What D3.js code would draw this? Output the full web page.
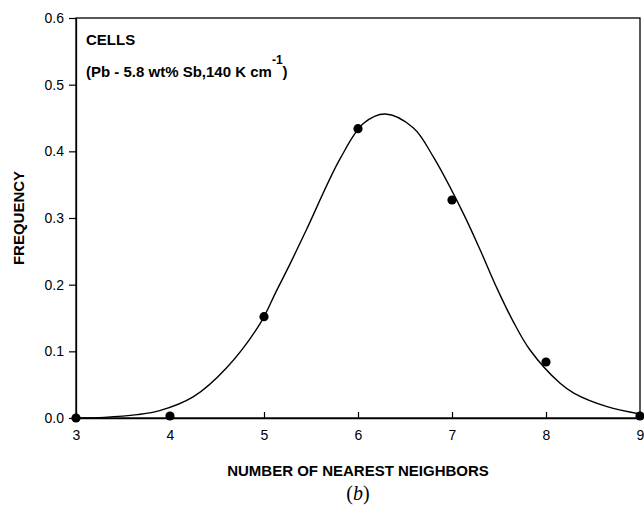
<!DOCTYPE html>
<meta charset="utf-8">
<style>
body { margin: 0; background: #fff; }
svg text { font-family: "Liberation Sans", Arial, sans-serif; fill: #000; }
.tick text { font-size: 14px; }
.bold { font-weight: bold; font-size: 15px; }
</style>
<svg width="644" height="514"></svg>
<script src="https://cdn.jsdelivr.net/npm/d3@7"></script>
<script>

// measured points (number of nearest neighbors vs frequency)
var neighbors = [3, 4, 5, 6, 7, 8, 9];
var frequency = [0.000, 0.003, 0.152, 0.434, 0.327, 0.084, 0.003];

// fitted curve
var fitX = [3.0, 3.3, 3.65, 3.89, 4.25, 4.6, 4.96, 5.13, 5.28, 5.45, 5.81, 6.06, 6.29, 6.59, 6.8, 7.12, 7.3, 7.48, 7.65, 7.83, 8.15, 8.3, 8.65, 9.0];
var fitY = [0.000, 0.001, 0.005, 0.011, 0.032, 0.075, 0.142, 0.190, 0.232, 0.282, 0.389, 0.442, 0.456, 0.435, 0.392, 0.307, 0.252, 0.194, 0.145, 0.102, 0.052, 0.037, 0.017, 0.006];

var xTicks = [3, 4, 5, 6, 7, 8, 9];
var yTicks = [0.0, 0.1, 0.2, 0.3, 0.4, 0.5, 0.6];

var svg = d3.select("svg");
var mLeft = 76, mRight = 640, mTop = 18, mBottom = 418;

var x = d3.scaleLinear().domain([3, 9]).range([mLeft, mRight]);
var y = d3.scaleLinear().domain([0, 0.6]).range([mBottom, mTop]);

// frame
svg.append("rect")
    .attr("x", mLeft).attr("y", mTop)
    .attr("width", mRight - mLeft).attr("height", mBottom - mTop)
    .attr("fill", "none").attr("stroke", "#000").attr("stroke-width", 1.3);

// bottom axis, ticks pointing inward
var xAxis = svg.append("g")
    .attr("transform", "translate(0," + mBottom + ")")
    .call(d3.axisBottom(x).tickValues(xTicks).tickFormat(d3.format("d"))
      .tickSizeInner(-6).tickSizeOuter(0).tickPadding(12));
xAxis.select(".domain").attr("stroke-width", 1.3);
xAxis.selectAll(".tick line").attr("stroke-width", 1.2);

// left axis, ticks outward
var yAxis = svg.append("g")
    .attr("transform", "translate(" + mLeft + ",0)")
    .call(d3.axisLeft(y).tickValues(yTicks).tickFormat(d3.format(".1f"))
      .tickSizeInner(7).tickSizeOuter(0).tickPadding(5));
yAxis.select(".domain").attr("stroke-width", 1.3);
yAxis.selectAll(".tick line").attr("stroke-width", 1.2);

// fitted curve
var line = d3.line()
    .x(function(d, i) { return x(fitX[i]); })
    .y(function(d) { return y(d); })
    .curve(d3.curveCatmullRom.alpha(0.5));

svg.append("path")
    .datum(fitY)
    .attr("d", line)
    .attr("fill", "none")
    .attr("stroke", "#000")
    .attr("stroke-width", 1.4);

// data points
svg.append("g").selectAll("circle")
    .data(frequency)
    .enter().append("circle")
      .attr("cx", function(d, i) { return x(neighbors[i]); })
      .attr("cy", function(d) { return y(d); })
      .attr("r", 4.6)
      .attr("fill", "#000");

// annotation
svg.append("text").attr("class", "bold")
    .attr("x", 86).attr("y", 45).text("CELLS");
var note = svg.append("text").attr("class", "bold")
    .attr("x", 86).attr("y", 77);
note.append("tspan").text("(Pb - 5.8 wt% Sb,140 K cm");
note.append("tspan").attr("dy", -13).attr("font-size", "12px").text("-1");
note.append("tspan").attr("dy", 13).text(")");

// axis titles
svg.append("text").attr("class", "bold")
    .attr("x", (mLeft + mRight) / 2).attr("y", 476)
    .attr("text-anchor", "middle")
    .text("NUMBER OF NEAREST NEIGHBORS");

svg.append("text").attr("class", "bold")
    .attr("transform", "translate(24," + ((mTop + mBottom) / 2) + ") rotate(-90)")
    .attr("text-anchor", "middle")
    .text("FREQUENCY");

svg.append("text")
    .attr("x", (mLeft + mRight) / 2).attr("y", 500)
    .attr("text-anchor", "middle")
    .style("font-family", "'Liberation Serif', 'Times New Roman', serif")
    .style("font-size", "20px")
    .html("(<tspan font-style='italic'>b</tspan>)");

</script>
